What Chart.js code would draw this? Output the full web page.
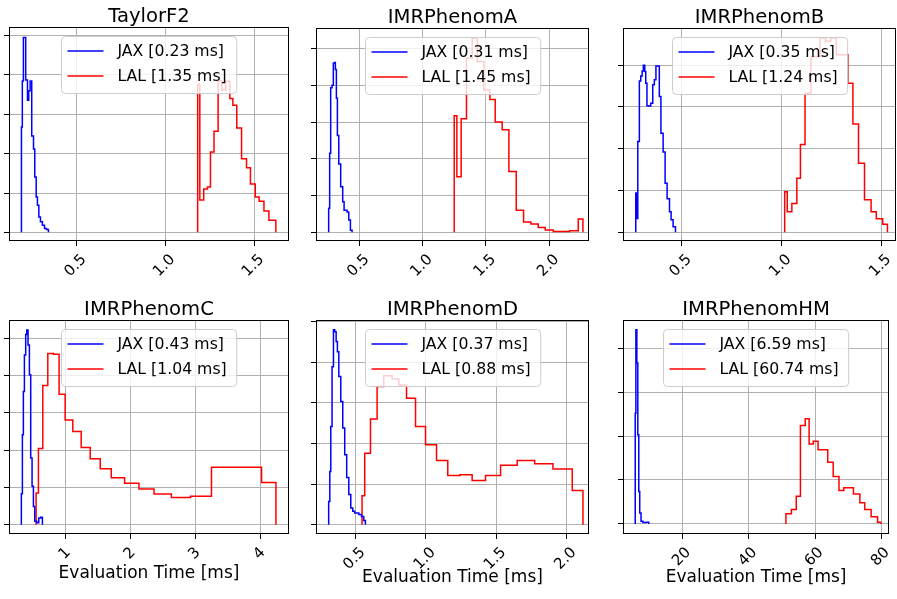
<!DOCTYPE html>
<html>
<head>
<meta charset="utf-8">
<script src="https://cdn.jsdelivr.net/npm/chart.js@4.4.1/dist/chart.umd.min.js"></script>
<style>
  html, body { margin: 0; padding: 0; background: #fff; overflow: hidden; }
  #page { position: relative; width: 897px; height: 599px; overflow: hidden; }
  .panel { position: absolute; }
</style>
</head>
<body>
<div id="page">
  <div class="panel" id="p0"><canvas></canvas></div>
  <div class="panel" id="p1"><canvas></canvas></div>
  <div class="panel" id="p2"><canvas></canvas></div>
  <div class="panel" id="p3"><canvas></canvas></div>
  <div class="panel" id="p4"><canvas></canvas></div>
  <div class="panel" id="p5"><canvas></canvas></div>
</div>
<script>
// waveform models and mean evaluation times (legend)
const models = ['TaylorF2', 'IMRPhenomA', 'IMRPhenomB', 'IMRPhenomC', 'IMRPhenomD', 'IMRPhenomHM'];
const jaxMeans = ['0.23', '0.31', '0.35', '0.43', '0.37', '6.59'];
const lalMeans = ['1.35', '1.45', '1.24', '1.04', '0.88', '60.74'];

// histogram bin edges [ms] and heights (in y-tick units)
const taylorJaxEdges = [0.190, 0.195, 0.201, 0.214, 0.224, 0.231, 0.239, 0.248, 0.258, 0.265, 0.273, 0.280, 0.288, 0.297, 0.308, 0.320, 0.331, 0.342];
const taylorJaxHeights = [2.68, 3.85, 4.95, 3.87, 3.36, 3.6, 3.85, 2.45, 2.12, 1.41, 0.9, 0.69, 0.39, 0.27, 0.18, 0.1, 0.07];
const taylorLalEdges = [1.182, 1.194, 1.216, 1.237, 1.254, 1.274, 1.297, 1.318, 1.340, 1.363, 1.380, 1.402, 1.429, 1.457, 1.479, 1.506, 1.528, 1.555, 1.583, 1.622];
const taylorLalHeights = [3.76, 0.82, 1.1, 1.15, 2.04, 2.57, 3.85, 3.62, 3.85, 3.4, 3.23, 2.65, 1.87, 1.64, 1.23, 0.9, 0.79, 0.54, 0.31];

const phenomAJaxEdges = [0.257, 0.265, 0.273, 0.284, 0.294, 0.302, 0.310, 0.318, 0.326, 0.337, 0.352, 0.368, 0.379, 0.402, 0.416, 0.429, 0.442];
const phenomAJaxHeights = [0.65, 2.15, 3.93, 4.0, 4.6, 4.62, 4.43, 3.65, 2.63, 1.86, 1.24, 0.83, 0.6, 0.55, 0.33, 0.05];
const phenomALalEdges = [1.249, 1.270, 1.304, 1.346, 1.391, 1.431, 1.483, 1.531, 1.573, 1.628, 1.681, 1.739, 1.797, 1.855, 1.913, 1.968, 2.032, 2.090, 2.161, 2.229, 2.266];
const phenomALalHeights = [3.17, 1.51, 3.09, 4.74, 5.29, 4.65, 3.88, 3.61, 3.0, 2.79, 1.65, 0.6, 0.28, 0.22, 0.13, 0.06, 0.02, 0.02, 0.04, 0.36];

const phenomBJaxEdges = [0.270, 0.275, 0.280, 0.288, 0.295, 0.302, 0.308, 0.315, 0.320, 0.326, 0.335, 0.345, 0.355, 0.363, 0.371, 0.378, 0.388, 0.396, 0.407, 0.417, 0.427, 0.439, 0.447, 0.457, 0.469];
const phenomBJaxHeights = [0.94, 0.33, 2.17, 3.62, 3.74, 3.86, 4.0, 3.85, 3.57, 3.03, 3.02, 3.09, 3.53, 3.65, 3.98, 3.98, 3.25, 2.37, 1.92, 1.17, 0.8, 0.49, 0.3, 0.13];
const phenomBLalEdges = [1.016, 1.029, 1.052, 1.077, 1.095, 1.118, 1.148, 1.193, 1.221, 1.247, 1.275, 1.333, 1.358, 1.386, 1.416, 1.449, 1.475, 1.507, 1.531];
const phenomBLalHeights = [0.97, 0.49, 0.69, 1.29, 2.1, 3.33, 4.21, 4.65, 4.57, 4.65, 4.25, 3.57, 2.59, 1.65, 0.78, 0.49, 0.32, 0.19];

const phenomCJaxEdges = [0.326, 0.342, 0.357, 0.373, 0.393, 0.409, 0.429, 0.450, 0.470, 0.491, 0.512, 0.532, 0.563, 0.594, 0.625, 0.650];
const phenomCJaxHeights = [0.83, 2.41, 3.57, 4.55, 5.1, 5.22, 4.82, 4.02, 1.79, 1.03, 0.49, 0.09, 0.05, 0.18, 0.2];
const phenomCLalEdges = [0.553, 0.589, 0.656, 0.733, 0.820, 0.907, 1.000, 1.118, 1.247, 1.386, 1.540, 1.710, 1.915, 2.136, 2.368, 2.635, 2.928, 3.252, 3.627, 4.023, 4.244];
const phenomCLalHeights = [0.85, 2.04, 3.73, 4.59, 4.57, 3.5, 2.81, 2.5, 2.07, 1.77, 1.5, 1.26, 1.11, 0.96, 0.82, 0.73, 0.76, 1.54, 1.54, 1.13];

const phenomDJaxEdges = [0.310, 0.318, 0.325, 0.334, 0.344, 0.353, 0.363, 0.372, 0.382, 0.396, 0.410, 0.424, 0.438, 0.453, 0.467, 0.481, 0.495, 0.524, 0.543, 0.559, 0.571];
const phenomDJaxHeights = [0.57, 1.31, 2.42, 3.89, 4.8, 4.75, 4.51, 4.26, 3.65, 3.03, 2.38, 1.72, 1.16, 0.74, 0.41, 0.33, 0.29, 0.25, 0.2, 0.1];
const phenomDLalEdges = [0.547, 0.566, 0.607, 0.654, 0.701, 0.761, 0.808, 0.863, 0.927, 0.998, 1.076, 1.156, 1.242, 1.329, 1.424, 1.531, 1.649, 1.773, 1.903, 2.040, 2.116];
const phenomDLalHeights = [0.71, 1.76, 2.6, 3.4, 3.67, 3.59, 3.44, 3.11, 2.42, 1.97, 1.58, 1.21, 1.23, 1.09, 1.21, 1.46, 1.58, 1.5, 1.37, 0.84];

const phenomHMJaxEdges = [5.74, 5.94, 6.23, 6.52, 6.81, 7.10, 7.49, 8.07, 9.04, 9.82];
const phenomHMJaxHeights = [2.52, 4.42, 3.66, 2.03, 0.74, 0.25, 0.06, 0.03, 0.04];
const phenomHMLalEdges = [51.23, 52.88, 54.34, 55.60, 57.05, 58.22, 59.48, 60.93, 63.84, 65.49, 67.24, 68.69, 71.60, 73.54, 75.00, 76.94, 78.88, 79.85];
const phenomHMLalHeights = [0.23, 0.33, 0.63, 2.24, 2.39, 1.82, 1.88, 1.69, 1.40, 1.08, 0.76, 0.82, 0.68, 0.48, 0.33, 0.16, 0.04];

// x tick values and labels per panel
const xTicks = [[0.5, 1.0, 1.5], [0.5, 1.0, 1.5, 2.0], [0.5, 1.0, 1.5], [1, 2, 3, 4], [0.5, 1.0, 1.5, 2.0], [20, 40, 60, 80]];
const xTickLabels = [['0.5', '1.0', '1.5'], ['0.5', '1.0', '1.5', '2.0'], ['0.5', '1.0', '1.5'], ['1', '2', '3', '4'], ['0.5', '1.0', '1.5', '2.0'], ['20', '40', '60', '80']];
const xLimits = [[0.12, 1.696], [0.157, 2.314], [0.206, 1.574], [0.136, 4.445], [0.22, 2.159], [2.05, 82.37]];
const yLimits = [[-0.22, 5.22], [-0.24, 5.56], [-0.21, 4.89], [-0.25, 5.49], [-0.23, 5.04], [-0.23, 4.64]];

const jaxEdges = [taylorJaxEdges, phenomAJaxEdges, phenomBJaxEdges, phenomCJaxEdges, phenomDJaxEdges, phenomHMJaxEdges];
const jaxHeights = [taylorJaxHeights, phenomAJaxHeights, phenomBJaxHeights, phenomCJaxHeights, phenomDJaxHeights, phenomHMJaxHeights];
const lalEdges = [taylorLalEdges, phenomALalEdges, phenomBLalEdges, phenomCLalEdges, phenomDLalEdges, phenomHMLalEdges];
const lalHeights = [taylorLalHeights, phenomALalHeights, phenomBLalHeights, phenomCLalHeights, phenomDLalHeights, phenomHMLalHeights];

// plot boxes on the page (axes area), px
const boxes = [
  {left: 9, top: 27, width: 280, height: 214},
  {left: 316, top: 28, width: 273, height: 213},
  {left: 623, top: 28, width: 276, height: 213},
  {left: 9, top: 320, width: 280, height: 214},
  {left: 316, top: 320, width: 273, height: 214},
  {left: 623, top: 320, width: 276, height: 214}
];
// shift so the rotated labels sit centred under their ticks
const labelOffsets = [7.5, 7.5, 7.5, 3, 7.5, 6];
// height below the axes; sets where the x title lands
const xAxisHeights = [50, 50, 50, 50, 54, 54];

const Y_AXIS_W = 8, TOP_PAD = 27;
const FONT = "'DejaVu Sans', sans-serif";

Chart.defaults.font.family = FONT;
Chart.defaults.color = '#000';

function histPoints(edges, heights) {
  const pts = [{x: edges[0], y: 0}];
  heights.forEach((h, i) => pts.push({x: edges[i], y: h}));
  pts.push({x: edges[edges.length - 1], y: 0});
  return pts;
}

// axes frame, title over the axes and an in-axes legend box (matplotlib look)
const mplDecor = {
  id: 'mplDecor',
  afterDatasetsDraw(chart, args, opts) {
    const {ctx, chartArea: a} = chart;
    ctx.save();
    ctx.strokeStyle = '#000';
    ctx.lineWidth = 1;
    ctx.strokeRect(Math.round(a.left) + 0.5, Math.round(a.top) + 0.5,
      Math.round(a.right - a.left) - 1, Math.round(a.bottom - a.top) - 1);

    ctx.fillStyle = '#000';
    ctx.font = '19.6px ' + FONT;
    ctx.textAlign = 'center';
    ctx.textBaseline = 'alphabetic';
    ctx.fillText(opts.title, (a.left + a.right) / 2, a.top - 5.5);

    const sets = chart.data.datasets;
    ctx.font = '15.7px ' + FONT;
    const textW = Math.max(...sets.map(d => ctx.measureText(d.label).width));
    const padL = 6, handle = 36, gap = 14, padR = 10;
    const w = padL + handle + gap + textW + padR, h = 57;
    const lx = Math.round((a.left + a.right) / 2 - w / 2) + 0.5;
    const ly = Math.round(a.top + 9) + 0.5;
    ctx.beginPath();
    if (ctx.roundRect) ctx.roundRect(lx, ly, w, h, 4); else ctx.rect(lx, ly, w, h);
    ctx.fillStyle = 'rgba(255,255,255,0.8)';
    ctx.fill();
    ctx.strokeStyle = '#cccccc';
    ctx.stroke();
    ctx.textAlign = 'left';
    ctx.textBaseline = 'middle';
    sets.forEach((d, k) => {
      const y = ly + 14.5 + k * 25;
      ctx.beginPath();
      ctx.moveTo(lx + padL, y);
      ctx.lineTo(lx + padL + handle, y);
      ctx.strokeStyle = d.borderColor;
      ctx.lineWidth = 1.5;
      ctx.stroke();
      ctx.fillStyle = '#000';
      ctx.fillText(d.label, lx + padL + handle + gap, y + 1);
    });
    ctx.restore();
  }
};

const gridOpts = {color: '#b0b0b0', lineWidth: 1, tickLength: 5, tickColor: '#000', tickWidth: 1};

models.forEach((name, i) => {
  const b = boxes[i];
  const host = document.getElementById('p' + i);
  host.style.left = (b.left - Y_AXIS_W) + 'px';
  host.style.top = (b.top - TOP_PAD) + 'px';
  host.style.width = (b.width + Y_AXIS_W) + 'px';
  host.style.height = (TOP_PAD + b.height + xAxisHeights[i]) + 'px';

  new Chart(host.querySelector('canvas'), {
    type: 'line',
    data: {
      datasets: [
        {label: 'JAX [' + jaxMeans[i] + ' ms]', data: histPoints(jaxEdges[i], jaxHeights[i]),
         borderColor: '#0000ff', borderWidth: 1.5, pointRadius: 0, stepped: true, fill: false},
        {label: 'LAL [' + lalMeans[i] + ' ms]', data: histPoints(lalEdges[i], lalHeights[i]),
         borderColor: '#ff0000', borderWidth: 1.5, pointRadius: 0, stepped: true, fill: false}
      ]
    },
    options: {
      responsive: true,
      maintainAspectRatio: false,
      animation: false,
      layout: {autoPadding: false, padding: {top: TOP_PAD, left: 0, right: 0, bottom: 0}},
      scales: {
        x: {
          type: 'linear',
          min: xLimits[i][0],
          max: xLimits[i][1],
          afterBuildTicks: s => { s.ticks = xTicks[i].map(v => ({value: v})); },
          ticks: {
            autoSkip: false, minRotation: 45, maxRotation: 45, padding: 5,
            labelOffset: labelOffsets[i], font: {size: 15},
            callback: (v, k) => xTickLabels[i][k]
          },
          grid: gridOpts,
          border: {display: false},
          title: {display: i >= 3, text: 'Evaluation Time [ms]', font: {size: 17}, padding: {top: 0, bottom: 0}},
          afterFit: s => { s.height = xAxisHeights[i]; }
        },
        y: {
          min: yLimits[i][0],
          max: yLimits[i][1],
          ticks: {display: false, stepSize: 1, includeBounds: false},
          grid: gridOpts,
          border: {display: false},
          afterFit: s => { s.width = Y_AXIS_W; }
        }
      },
      plugins: {
        legend: {display: false},
        tooltip: {enabled: false},
        title: {display: false},
        mplDecor: {title: name}
      }
    },
    plugins: [mplDecor]
  });
});
</script>
</body>
</html>
